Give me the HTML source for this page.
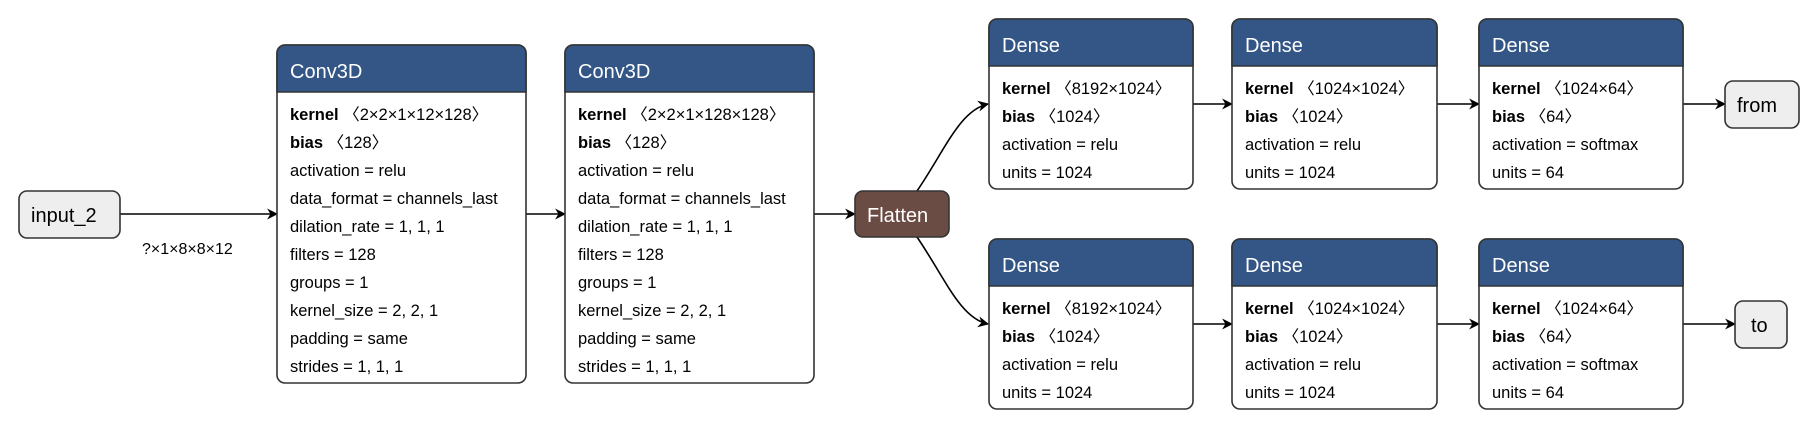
<!DOCTYPE html>
<html><head><meta charset="utf-8"><style>
html,body{margin:0;padding:0;background:#fff;}
svg text{font-family:"Liberation Sans",sans-serif;}
</style></head><body>
<svg width="1810" height="430" viewBox="0 0 1810 430" xmlns="http://www.w3.org/2000/svg">
<defs>
<marker id="ar" viewBox="0 0 10 10" refX="9" refY="5" markerWidth="11" markerHeight="11" markerUnits="userSpaceOnUse" orient="auto">
<path d="M0,0 L10,5 L0,10 L3,5 z" fill="#000"/>
</marker>
</defs>
<g stroke="#000" stroke-width="1.6" fill="none" marker-end="url(#ar)">
<line x1="120" y1="214" x2="277" y2="214"/>
<line x1="526" y1="214" x2="565" y2="214"/>
<line x1="814" y1="214" x2="855" y2="214"/>
<path d="M917,191 C945,150 960,110 988,104"/>
<path d="M917,237 C945,278 960,318 988,324"/>
<line x1="1193" y1="104" x2="1232" y2="104"/>
<line x1="1437" y1="104" x2="1479" y2="104"/>
<line x1="1683" y1="104" x2="1725" y2="104"/>
<line x1="1193" y1="324" x2="1232" y2="324"/>
<line x1="1437" y1="324" x2="1479" y2="324"/>
<line x1="1683" y1="324" x2="1735" y2="324"/>
</g>
<text x="142" y="254" font-size="16" fill="#000">?×1×8×8×12</text>

<rect x="19" y="191" width="101" height="47" rx="8" fill="#eee" stroke="#333" stroke-width="1.6"/>
<text x="31" y="222" font-size="20" fill="#000">input_2</text>

<rect x="855" y="191" width="94" height="46" rx="8" fill="#6b4c44" stroke="#333" stroke-width="1.6"/>
<text x="867" y="222" font-size="20" fill="#fff">Flatten</text>

<rect x="1725" y="81" width="74" height="47" rx="8" fill="#eee" stroke="#333" stroke-width="1.6"/>
<text x="1737" y="112" font-size="20" fill="#000">from</text>
<rect x="1735" y="301" width="52" height="47" rx="8" fill="#eee" stroke="#333" stroke-width="1.6"/>
<text x="1751" y="332" font-size="20" fill="#000">to</text>

<g font-size="16.5" fill="#000">
<g transform="translate(277,45)">
<rect x="0" y="0" width="249" height="338" rx="8" fill="#fff" stroke="#333" stroke-width="1.6"/>
<path d="M0,47 V8 A8,8 0 0 1 8,0 H241 A8,8 0 0 1 249,8 V47 Z" fill="#335686" stroke="#333" stroke-width="1.6"/>
<text x="13" y="33" font-size="20" fill="#fff">Conv3D</text>
<text x="13" y="75"><tspan font-weight="bold">kernel</tspan> 〈2×2×1×12×128〉</text>
<text x="13" y="103"><tspan font-weight="bold">bias</tspan> 〈128〉</text>
<text x="13" y="131">activation = relu</text>
<text x="13" y="159">data_format = channels_last</text>
<text x="13" y="187">dilation_rate = 1, 1, 1</text>
<text x="13" y="215">filters = 128</text>
<text x="13" y="243">groups = 1</text>
<text x="13" y="271">kernel_size = 2, 2, 1</text>
<text x="13" y="299">padding = same</text>
<text x="13" y="327">strides = 1, 1, 1</text>
</g>
<g transform="translate(565,45)">
<rect x="0" y="0" width="249" height="338" rx="8" fill="#fff" stroke="#333" stroke-width="1.6"/>
<path d="M0,47 V8 A8,8 0 0 1 8,0 H241 A8,8 0 0 1 249,8 V47 Z" fill="#335686" stroke="#333" stroke-width="1.6"/>
<text x="13" y="33" font-size="20" fill="#fff">Conv3D</text>
<text x="13" y="75"><tspan font-weight="bold">kernel</tspan> 〈2×2×1×128×128〉</text>
<text x="13" y="103"><tspan font-weight="bold">bias</tspan> 〈128〉</text>
<text x="13" y="131">activation = relu</text>
<text x="13" y="159">data_format = channels_last</text>
<text x="13" y="187">dilation_rate = 1, 1, 1</text>
<text x="13" y="215">filters = 128</text>
<text x="13" y="243">groups = 1</text>
<text x="13" y="271">kernel_size = 2, 2, 1</text>
<text x="13" y="299">padding = same</text>
<text x="13" y="327">strides = 1, 1, 1</text>
</g>

<g transform="translate(989,19)">
<rect x="0" y="0" width="204" height="170" rx="8" fill="#fff" stroke="#333" stroke-width="1.6"/>
<path d="M0,47 V8 A8,8 0 0 1 8,0 H196 A8,8 0 0 1 204,8 V47 Z" fill="#335686" stroke="#333" stroke-width="1.6"/>
<text x="13" y="33" font-size="20" fill="#fff">Dense</text>
<text x="13" y="75"><tspan font-weight="bold">kernel</tspan> 〈8192×1024〉</text>
<text x="13" y="103"><tspan font-weight="bold">bias</tspan> 〈1024〉</text>
<text x="13" y="131">activation = relu</text>
<text x="13" y="159">units = 1024</text>
</g>
<g transform="translate(1232,19)">
<rect x="0" y="0" width="205" height="170" rx="8" fill="#fff" stroke="#333" stroke-width="1.6"/>
<path d="M0,47 V8 A8,8 0 0 1 8,0 H197 A8,8 0 0 1 205,8 V47 Z" fill="#335686" stroke="#333" stroke-width="1.6"/>
<text x="13" y="33" font-size="20" fill="#fff">Dense</text>
<text x="13" y="75"><tspan font-weight="bold">kernel</tspan> 〈1024×1024〉</text>
<text x="13" y="103"><tspan font-weight="bold">bias</tspan> 〈1024〉</text>
<text x="13" y="131">activation = relu</text>
<text x="13" y="159">units = 1024</text>
</g>
<g transform="translate(1479,19)">
<rect x="0" y="0" width="204" height="170" rx="8" fill="#fff" stroke="#333" stroke-width="1.6"/>
<path d="M0,47 V8 A8,8 0 0 1 8,0 H196 A8,8 0 0 1 204,8 V47 Z" fill="#335686" stroke="#333" stroke-width="1.6"/>
<text x="13" y="33" font-size="20" fill="#fff">Dense</text>
<text x="13" y="75"><tspan font-weight="bold">kernel</tspan> 〈1024×64〉</text>
<text x="13" y="103"><tspan font-weight="bold">bias</tspan> 〈64〉</text>
<text x="13" y="131">activation = softmax</text>
<text x="13" y="159">units = 64</text>
</g>

<g transform="translate(989,239)">
<rect x="0" y="0" width="204" height="170" rx="8" fill="#fff" stroke="#333" stroke-width="1.6"/>
<path d="M0,47 V8 A8,8 0 0 1 8,0 H196 A8,8 0 0 1 204,8 V47 Z" fill="#335686" stroke="#333" stroke-width="1.6"/>
<text x="13" y="33" font-size="20" fill="#fff">Dense</text>
<text x="13" y="75"><tspan font-weight="bold">kernel</tspan> 〈8192×1024〉</text>
<text x="13" y="103"><tspan font-weight="bold">bias</tspan> 〈1024〉</text>
<text x="13" y="131">activation = relu</text>
<text x="13" y="159">units = 1024</text>
</g>
<g transform="translate(1232,239)">
<rect x="0" y="0" width="205" height="170" rx="8" fill="#fff" stroke="#333" stroke-width="1.6"/>
<path d="M0,47 V8 A8,8 0 0 1 8,0 H197 A8,8 0 0 1 205,8 V47 Z" fill="#335686" stroke="#333" stroke-width="1.6"/>
<text x="13" y="33" font-size="20" fill="#fff">Dense</text>
<text x="13" y="75"><tspan font-weight="bold">kernel</tspan> 〈1024×1024〉</text>
<text x="13" y="103"><tspan font-weight="bold">bias</tspan> 〈1024〉</text>
<text x="13" y="131">activation = relu</text>
<text x="13" y="159">units = 1024</text>
</g>
<g transform="translate(1479,239)">
<rect x="0" y="0" width="204" height="170" rx="8" fill="#fff" stroke="#333" stroke-width="1.6"/>
<path d="M0,47 V8 A8,8 0 0 1 8,0 H196 A8,8 0 0 1 204,8 V47 Z" fill="#335686" stroke="#333" stroke-width="1.6"/>
<text x="13" y="33" font-size="20" fill="#fff">Dense</text>
<text x="13" y="75"><tspan font-weight="bold">kernel</tspan> 〈1024×64〉</text>
<text x="13" y="103"><tspan font-weight="bold">bias</tspan> 〈64〉</text>
<text x="13" y="131">activation = softmax</text>
<text x="13" y="159">units = 64</text>
</g>
</g>
</svg>
</body></html>
